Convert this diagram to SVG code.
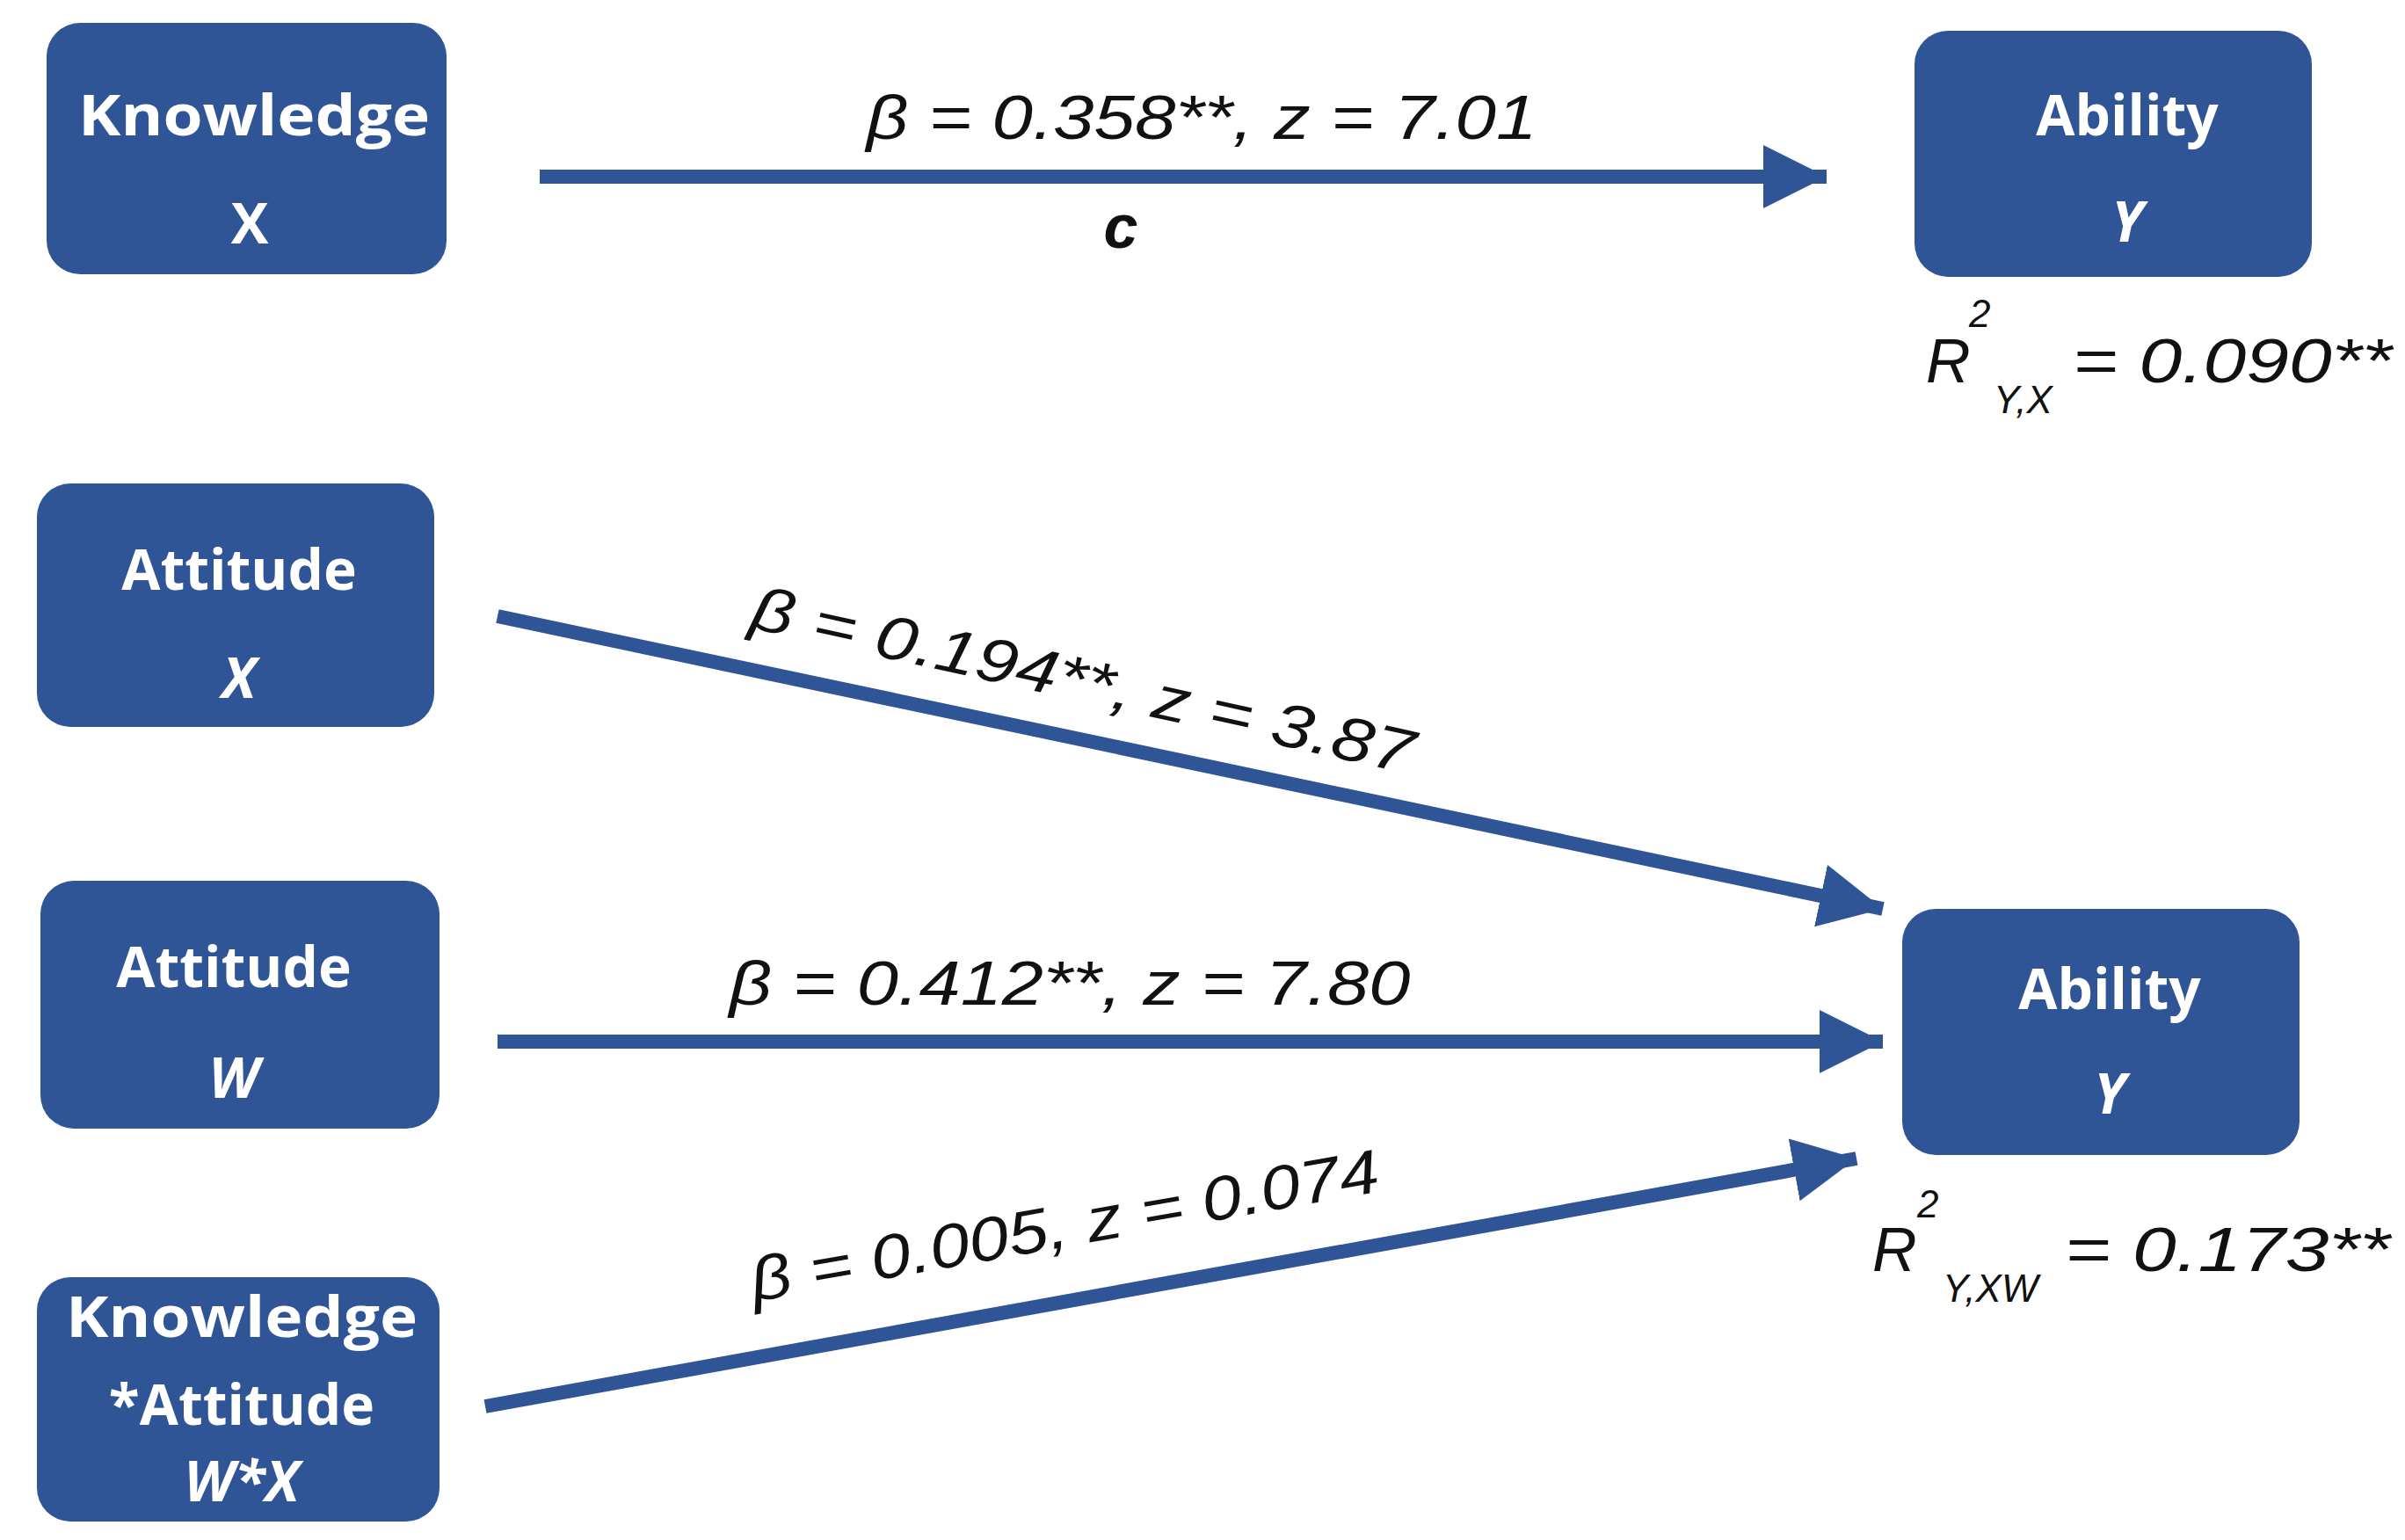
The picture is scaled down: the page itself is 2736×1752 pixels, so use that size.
<svg xmlns="http://www.w3.org/2000/svg" width="2736" height="1752" viewBox="0 0 2736 1752">
<style>
.box{fill:#2F5597;}
.bt{fill:#fff;font-family:"Open Sans","Liberation Sans",sans-serif;font-weight:bold;font-size:64px;text-anchor:middle;}
.lbl{fill:#111;font-family:"Liberation Sans",sans-serif;font-style:italic;font-size:70px;text-anchor:middle;}
.ls{fill:#111;font-family:"Liberation Sans",sans-serif;font-style:italic;font-size:70px;text-anchor:start;}
.ln{stroke:#2F5597;stroke-width:16;fill:none;}
.sm{fill:#111;font-family:"Liberation Sans",sans-serif;font-style:italic;font-size:44px;}
</style>
<defs>
<marker id="ah" markerUnits="userSpaceOnUse" markerWidth="80" markerHeight="80" refX="72" refY="36" orient="auto">
<path d="M0,0 L72,36 L0,72 Z" fill="#2F5597"/>
</marker>
</defs>
<rect width="2736" height="1752" fill="#fff"/>
<g id="connectors">
<line class="ln" x1="614" y1="201" x2="2078" y2="201" marker-end="url(#ah)"/>
<line class="ln" x1="566" y1="701" x2="2142" y2="1034" marker-end="url(#ah)"/>
<line class="ln" x1="566" y1="1185" x2="2142" y2="1185" marker-end="url(#ah)"/>
<line class="ln" x1="552" y1="1600" x2="2112" y2="1318" marker-end="url(#ah)"/>
<text class="lbl" x="1367" y="158" textLength="763" lengthAdjust="spacingAndGlyphs">β = 0.358**, z = 7.01</text>
<text class="lbl" x="1275" y="282" font-weight="bold" font-size="62">c</text>
<text class="lbl" x="1227" y="797" transform="rotate(12.5 1227 797)" textLength="770" lengthAdjust="spacingAndGlyphs">β = 0.194**, z = 3.87</text>
<text class="lbl" x="1217" y="1143" textLength="775" lengthAdjust="spacingAndGlyphs">β = 0.412**, z = 7.80</text>
<text class="lbl" x="1215" y="1418" transform="rotate(-10 1215 1418)" textLength="725" lengthAdjust="spacingAndGlyphs">β = 0.005, z = 0.074</text>
</g>
<g id="n1"><rect class="box" x="53" y="26" width="455" height="286" rx="38"/>
<text class="bt" x="289" y="154" textLength="400" lengthAdjust="spacingAndGlyphs">Knowledge</text>
<text class="bt" x="284" y="277">X</text></g>
<g id="n2"><rect class="box" x="2178" y="35" width="452" height="280" rx="38"/>
<text class="bt" x="2420" y="154">Ability</text>
<text class="bt" x="2420" y="275" font-style="italic">Y</text></g>
<g id="n3"><rect class="box" x="42" y="550" width="452" height="277" rx="38"/>
<text class="bt" x="272" y="671">Attitude</text>
<text class="bt" x="272" y="794" font-style="italic">X</text></g>
<g id="n4"><rect class="box" x="46" y="1002" width="454" height="282" rx="38"/>
<text class="bt" x="266" y="1123">Attitude</text>
<text class="bt" x="266" y="1249" font-style="italic">W</text></g>
<g id="n5"><rect class="box" x="42" y="1453" width="458" height="278" rx="38"/>
<text class="bt" x="275" y="1521" textLength="400" lengthAdjust="spacingAndGlyphs">Knowledge</text>
<text class="bt" x="275" y="1621">*Attitude</text>
<text class="bt" x="275" y="1708" font-style="italic">W*X</text></g>
<g id="n6"><rect class="box" x="2164" y="1034" width="452" height="280" rx="38"/>
<text class="bt" x="2400" y="1148">Ability</text>
<text class="bt" x="2400" y="1267" font-style="italic">Y</text></g>
<g id="r1">
<text class="ls" x="2191" y="435">R</text>
<text class="sm" x="2240" y="372">2</text>
<text class="sm" x="2268" y="470">Y,X</text>
<text class="ls" x="2358" y="435" textLength="363" lengthAdjust="spacingAndGlyphs">= 0.090**</text>
</g>
<g id="r2">
<text class="ls" x="2130" y="1446">R</text>
<text class="sm" x="2181" y="1385">2</text>
<text class="sm" x="2210" y="1481">Y,XW</text>
<text class="ls" x="2349" y="1446" textLength="370" lengthAdjust="spacingAndGlyphs">= 0.173**</text>
</g>
</svg>
